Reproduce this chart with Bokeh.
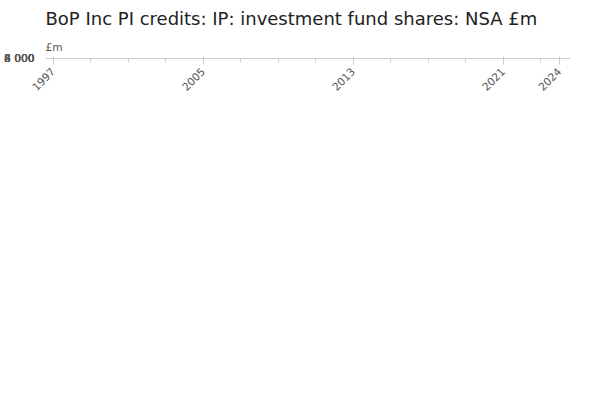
from bokeh.plotting import figure
from bokeh.embed import file_html
from bokeh.resources import INLINE
from bokeh.models import Legend, FixedTicker, CustomJSTickFormatter, Label, Title

years = list(range(1997, 2025))
values = [90, 210, 600, 970, 900, 1300, 1360, 1540, 1960, 2540, 3110, 2480, 1810, 3950, 2200, 2600,
          3050, 2870, 2960, 3380, 4170, 4950, 5340, 6040, 6610, 6100, 5310, 5220]
series_name = "BoP Inc PI credits: IP: investment fund shares: NSA £m"
x_ticks = [1997, 2005, 2013, 2021, 2024]
y_ticks = [0, 2000, 4000, 6000, 8000]

p = figure(width=584, height=384, output_backend="svg", toolbar_location=None,
           x_range=(1996.6, 2024.6), y_range=(0, 8000), min_border_left=10, min_border_right=14,
           min_border_bottom=10)
p.title.text = "BoP Inc PI credits: IP: investment fund shares: NSA £m"
p.title.text_font = "DejaVu Sans"
p.title.text_font_size = "13.5pt"
p.title.text_font_style = "normal"
p.title.text_color = "#222222"

r = p.line(years, values, line_color="#0b7dc2", line_width=2)
s = p.scatter(years, values, size=4, fill_color="#0b7dc2", line_color="#0b7dc2")

p.xaxis.ticker = FixedTicker(ticks=x_ticks, minor_ticks=list(range(1997, 2025, 2)))
p.xaxis.major_label_orientation = 0.785
p.yaxis.ticker = FixedTicker(ticks=y_ticks)
p.yaxis.formatter = CustomJSTickFormatter(code="return tick >= 1000 ? Math.floor(tick/1000) + ' ' + String(tick%1000).padStart(3,'0') : String(tick);")
for ax in (p.xaxis, p.yaxis):
    ax.major_label_text_font = "DejaVu Sans"
    ax.major_label_text_font_size = "8pt"
    ax.major_label_text_color = "#555555"
p.yaxis.axis_line_color = None
p.yaxis.major_tick_line_color = None
p.yaxis.minor_tick_line_color = None
p.xaxis.axis_line_color = "#cccccc"
p.xaxis.major_tick_line_color = "#cccccc"
p.xaxis.minor_tick_line_color = "#cccccc"
p.xgrid.grid_line_color = None
p.ygrid.grid_line_color = "#e6e6e6"
p.outline_line_color = None

p.add_layout(Title(text="£m", text_font="DejaVu Sans", text_font_size="8pt",
                   text_font_style="normal", text_color="#555555"), "above")

legend = Legend(items=[(series_name, [r, s])], location=(80, 0), orientation="horizontal",
                label_text_font="DejaVu Sans", label_text_font_size="9.5pt",
                label_text_font_style="bold", label_text_color="#333333",
                border_line_color=None, background_fill_alpha=0, glyph_width=20, padding=4, margin=6)
p.add_layout(legend, "below")
p.add_layout(Title(text="Source:", text_font="DejaVu Sans", text_font_size="9.5pt",
                   text_font_style="normal", text_color="#555555", align="right"), "below")

open("out.html", "w").write(file_html(p, INLINE))
